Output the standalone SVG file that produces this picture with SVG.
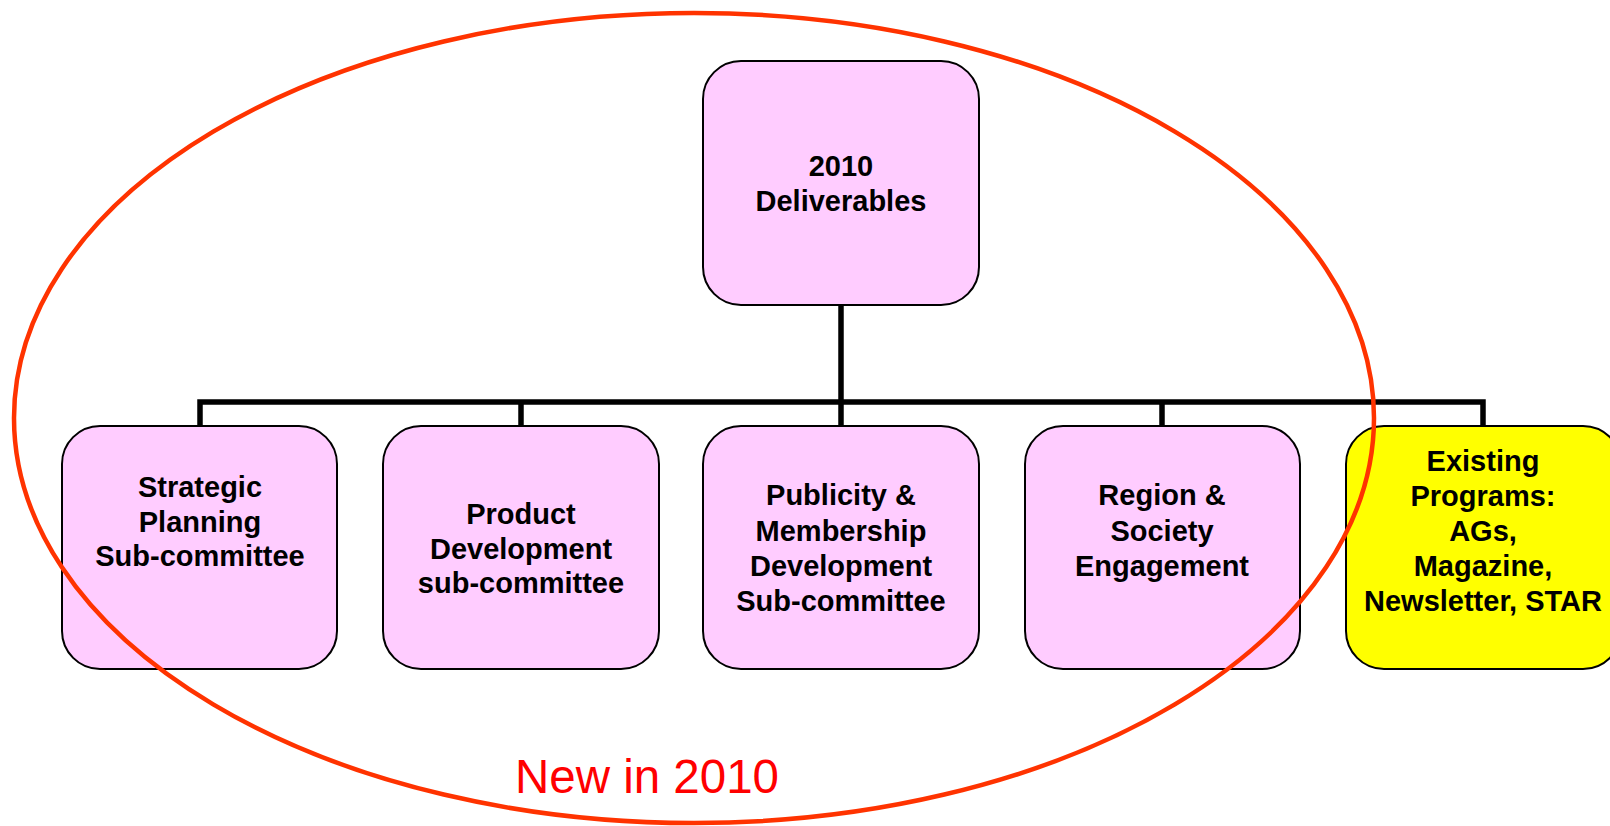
<svg xmlns="http://www.w3.org/2000/svg" width="1610" height="826" viewBox="0 0 1610 826">
  <style>
    .box { stroke: #000; stroke-width: 2; }
    .pink { fill: #FFCCFF; }
    .yellow { fill: #FFFF00; }
    .lbl { font-family: "Liberation Sans", Arial, sans-serif; font-weight: bold; font-size: 29px; fill: #000; text-anchor: middle; }
    .wire { stroke: #000; stroke-width: 5.5; fill: none; }
  </style>
  <rect width="1610" height="826" fill="#fff"/>

  <!-- tree connectors -->
  <g id="connectors">
    <line class="wire" x1="841" y1="305" x2="841" y2="402"/>
    <polyline class="wire" points="200,426 200,402 1483,402 1483,426"/>
    <line class="wire" x1="521" y1="402" x2="521" y2="426"/>
    <line class="wire" x1="841" y1="402" x2="841" y2="426"/>
    <line class="wire" x1="1162" y1="402" x2="1162" y2="426"/>
  </g>

  <g id="node-deliverables">
    <rect class="box pink" x="703" y="61" width="276" height="244" rx="38" ry="38"/>
    <text class="lbl" x="841"><tspan x="841" y="176">2010</tspan><tspan x="841" y="211">Deliverables</tspan></text>
  </g>

  <g id="node-strategic">
    <rect class="box pink" x="62" y="426" width="275" height="243" rx="38" ry="38"/>
    <text class="lbl"><tspan x="200" y="497">Strategic</tspan><tspan x="200" y="532">Planning</tspan><tspan x="200" y="566">Sub-committee</tspan></text>
  </g>

  <g id="node-product">
    <rect class="box pink" x="383" y="426" width="276" height="243" rx="38" ry="38"/>
    <text class="lbl"><tspan x="521" y="524">Product</tspan><tspan x="521" y="559">Development</tspan><tspan x="521" y="593">sub-committee</tspan></text>
  </g>

  <g id="node-publicity">
    <rect class="box pink" x="703" y="426" width="276" height="243" rx="38" ry="38"/>
    <text class="lbl"><tspan x="841" y="505">Publicity &amp;</tspan><tspan x="841" y="541">Membership</tspan><tspan x="841" y="576">Development</tspan><tspan x="841" y="611">Sub-committee</tspan></text>
  </g>

  <g id="node-region">
    <rect class="box pink" x="1025" y="426" width="275" height="243" rx="38" ry="38"/>
    <text class="lbl"><tspan x="1162" y="505">Region &amp;</tspan><tspan x="1162" y="541">Society</tspan><tspan x="1162" y="576">Engagement</tspan></text>
  </g>

  <g id="node-existing">
    <rect class="box yellow" x="1346" y="426" width="275" height="243" rx="38" ry="38"/>
    <text class="lbl"><tspan x="1483" y="471">Existing</tspan><tspan x="1483" y="506">Programs:</tspan><tspan x="1483" y="541">AGs,</tspan><tspan x="1483" y="576">Magazine,</tspan><tspan x="1483" y="611">Newsletter, STAR</tspan></text>
  </g>

  <!-- red ring around the new groups -->
  <g id="new-in-2010">
    <ellipse cx="694" cy="418" rx="680" ry="405" fill="none" stroke="#FF3300" stroke-width="4.5"/>
    <text x="647" y="793" font-family="Liberation Sans, Arial, sans-serif" font-size="47.5" fill="#FF0000" text-anchor="middle">New in 2010</text>
  </g>
</svg>
